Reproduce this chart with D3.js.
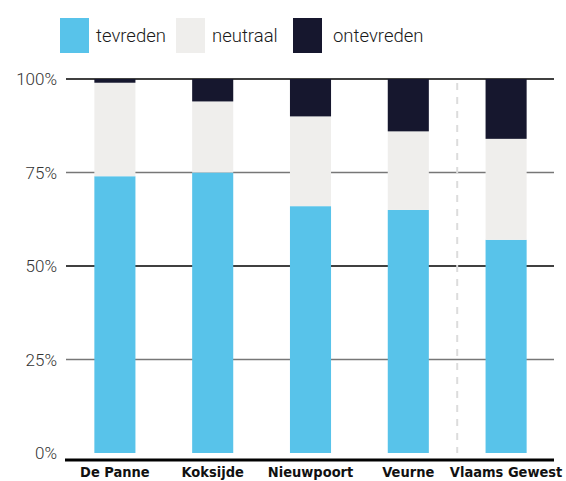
<!DOCTYPE html>
<html><head><meta charset="utf-8">
<script src="https://cdn.jsdelivr.net/npm/d3@7"></script>
<style>body{margin:0;background:#fff}svg{display:block}</style>
</head><body><svg id="c" width="566" height="481"></svg>
<script>
const categories = ["De Panne","Koksijde","Nieuwpoort","Veurne","Vlaams Gewest"];
const seriesNames = ["tevreden","neutraal","ontevreden"];
const tevreden = [74,75,66,65,57];
const neutraal = [25,19,24,21,27];
const ontevreden = [1,6,10,14,16];
const yTicks = [0,25,50,75,100];
const colors = ["#58c3ea","#efeeec","#16172e"];

const data = categories.map((c,i)=>({cat:c, tevreden:tevreden[i], neutraal:neutraal[i], ontevreden:ontevreden[i]}));
const stack = d3.stack().keys(seriesNames)(data);

const svg = d3.select("#c");
const x = d3.scaleBand().domain(categories).range([66,555]).paddingInner(0.58).paddingOuter(0.29);
const y = d3.scaleLinear().domain([0,100]).range([453,79]);

// gridlines
svg.append("g").selectAll("line").data(yTicks.filter(t=>t>0)).join("line")
  .attr("x1",66).attr("x2",554).attr("y1",d=>y(d)).attr("y2",d=>y(d))
  .attr("stroke",d=>d%50===0?"#000":"#777").attr("stroke-width",1.5);

// y labels
const yAxis = d3.axisLeft(y).tickValues(yTicks).tickFormat(d=>d+"%").tickSize(0).tickPadding(0);
const ya = svg.append("g").attr("transform","translate(57,0)").call(yAxis);
ya.select(".domain").remove();
ya.selectAll("text").attr("font-family","Roboto").attr("font-weight",300).attr("font-size",17).attr("fill","#333").attr("dy","0.35em");

// dashed separator
const sepX = (x("Veurne")+x.bandwidth() + x("Vlaams Gewest"))/2;
svg.append("line").attr("x1",sepX).attr("x2",sepX).attr("y1",83).attr("y2",453)
  .attr("stroke","#dcdcdc").attr("stroke-width",2).attr("stroke-dasharray","7,7");

// bars
svg.append("g").selectAll("g").data(stack).join("g").attr("fill",(d,i)=>colors[i])
  .selectAll("rect").data(d=>d).join("rect")
  .attr("x",d=>x(d.data.cat)).attr("width",x.bandwidth())
  .attr("y",d=>y(d[1])).attr("height",d=>y(d[0])-y(d[1]));

// x axis baseline
svg.append("line").attr("x1",65).attr("x2",554).attr("y1",460).attr("y2",460).attr("stroke","#000").attr("stroke-width",3);

const xAxis = d3.axisBottom(x).tickSize(0).tickPadding(0);
const xa = svg.append("g").attr("transform","translate(0,477)").call(xAxis);
xa.select(".domain").remove();
xa.selectAll("text").attr("dy",0).attr("font-family","Liberation Sans Narrow, DejaVu Sans Condensed").attr("font-weight","bold").attr("font-size",14.5).attr("fill","#111");

// legend
const legX = [60,176,293];
const lg = svg.append("g").selectAll("g").data(seriesNames).join("g").attr("transform",(d,i)=>`translate(${legX[i]},18)`);
lg.append("rect").attr("width",29).attr("height",35).attr("fill",(d,i)=>colors[i]);
lg.append("text").attr("x",(d,i)=>i===2?40:36).attr("y",18).attr("dy","0.35em").text(d=>d)
  .attr("font-family","Roboto").attr("font-weight",300).attr("font-size",18.5).attr("fill","#1a1a1a");
</script></body></html>
